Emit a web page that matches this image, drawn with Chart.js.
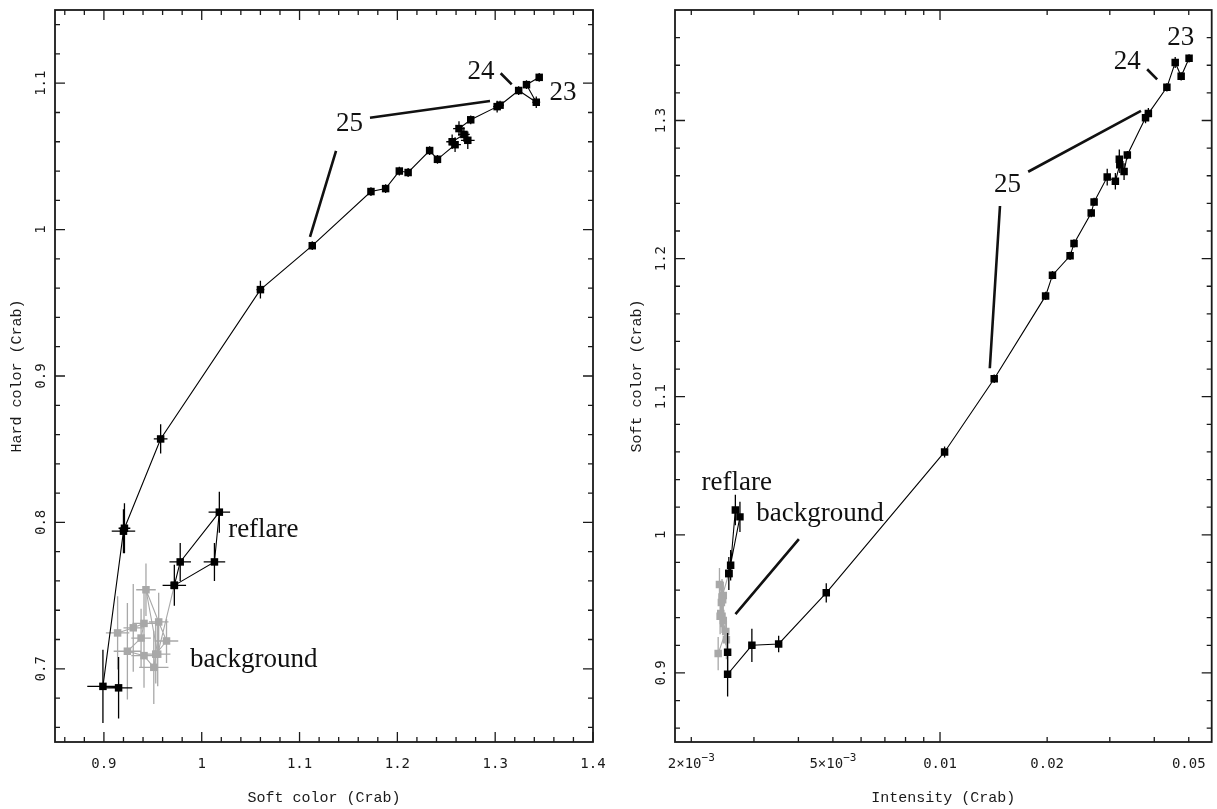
<!DOCTYPE html>
<html>
<head>
<meta charset="utf-8">
<title>Colour-colour and hardness-intensity diagrams</title>
<script src="https://cdn.jsdelivr.net/npm/chart.js@4.4.1/dist/chart.umd.min.js"></script>
<style>
  html, body { margin: 0; padding: 0; background: #fff; }
  body { width: 1217px; height: 809px; position: relative; overflow: hidden; }
  canvas { position: absolute; top: 0; }
  #ccd { left: 0; }
  #hid { left: 615px; }
</style>
</head>
<body>
<canvas id="ccd" width="615" height="809"></canvas>
<canvas id="hid" width="602" height="809"></canvas>
<script>
/* ------------------------------------------------------------------
   DATA
   Outburst track, one entry per observation. The soft colour is shared
   by both panels (x on the left, y on the right).
   ------------------------------------------------------------------ */
var SOFT      = [1.345, 1.332, 1.342, 1.324, 1.305, 1.302, 1.275, 1.263, 1.272, 1.268, 1.256, 1.259,
                 1.241, 1.233, 1.211, 1.202, 1.188, 1.173, 1.113, 1.060, 0.958, 0.921, 0.920, 0.899, 0.915];
var HARD      = [1.104, 1.099, 1.087, 1.095, 1.085, 1.084, 1.075, 1.069, 1.061, 1.065, 1.060, 1.058,
                 1.048, 1.054, 1.039, 1.040, 1.028, 1.026, 0.989, 0.959, 0.857, 0.796, 0.794, 0.688, 0.687];
var INTENSITY = [0.0501, 0.0476, 0.0458, 0.0434, 0.0385, 0.0378, 0.0336, 0.0329, 0.0319, 0.0320, 0.0311, 0.0295,
                 0.0271, 0.0266, 0.0238, 0.0232, 0.0207, 0.0198, 0.0142, 0.0103, 0.00479, 0.00352, 0.00296, 0.00253, 0.00253];
var SOFT_ERR  = [0.003, 0.003, 0.004, 0.003, 0.004, 0.004, 0.003, 0.006, 0.007, 0.006, 0.006, 0.006,
                 0.003, 0.003, 0.003, 0.003, 0.003, 0.003, 0.003, 0.004, 0.007, 0.006, 0.012, 0.016, 0.014];
var HARD_ERR  = [0.003, 0.003, 0.004, 0.003, 0.003, 0.004, 0.003, 0.005, 0.006, 0.005, 0.005, 0.005,
                 0.003, 0.003, 0.003, 0.003, 0.003, 0.003, 0.003, 0.006, 0.010, 0.017, 0.015, 0.025, 0.021];

// reflare loop (closes back on its first point)
var REFLARE_SOFT      = [0.972, 0.978, 1.018, 1.013, 0.972];
var REFLARE_HARD      = [0.757, 0.773, 0.807, 0.773, 0.757];
var REFLARE_INTENSITY = [0.00255, 0.00258, 0.00266, 0.00274, 0.00255];
var REFLARE_SOFT_ERR  = [0.012, 0.011, 0.011, 0.011, 0];
var REFLARE_HARD_ERR  = [0.014, 0.013, 0.014, 0.013, 0];

// background-level observations before the reflare
var BKG_SOFT      = [0.914, 0.930, 0.941, 0.938, 0.924, 0.941, 0.951, 0.953, 0.964, 0.956, 0.943, 0.955];
var BKG_HARD      = [0.7245, 0.728, 0.731, 0.721, 0.712, 0.709, 0.701, 0.710, 0.719, 0.732, 0.754, 0.710];
var BKG_INTENSITY = [0.00238, 0.00250, 0.00244, 0.00246, 0.00251, 0.00241, 0.00243, 0.00245, 0.00240, 0.00246, 0.00242, 0.00244];
var BKG_SOFT_ERR  = [0.012, 0.010, 0.012, 0.010, 0.014, 0.013, 0.015, 0.010, 0.012, 0.010, 0.010, 0.013];
var BKG_HARD_ERR  = [0.025, 0.030, 0.025, 0.020, 0.033, 0.022, 0.025, 0.020, 0.015, 0.020, 0.018, 0.022];

// axis tick labels
var CCD_X_TICKS  = [0.9, 1, 1.1, 1.2, 1.3, 1.4];
var CCD_X_LABELS = ['0.9', '1', '1.1', '1.2', '1.3', '1.4'];
var CCD_Y_TICKS  = [0.7, 0.8, 0.9, 1, 1.1];
var CCD_Y_LABELS = ['0.7', '0.8', '0.9', '1', '1.1'];
var HID_X_TICKS  = [0.002, 0.005, 0.01, 0.02, 0.05];
var HID_X_LABELS = ['2×10^−3', '5×10^−3', '0.01', '0.02', '0.05'];
var HID_Y_TICKS  = [0.9, 1, 1.1, 1.2, 1.3];
var HID_Y_LABELS = ['0.9', '1', '1.1', '1.2', '1.3'];

/* ------------------------------------------------------------------
   STYLE
   ------------------------------------------------------------------ */
var INK   = '#1a1a1a';
var GREY  = '#a8a8a8';
var TICK_FONT  = '14px "DejaVu Sans Mono", monospace';
var SUP_FONT   = '11px "DejaVu Sans Mono", monospace';
var TITLE_FONT = '15px "Liberation Mono", monospace';
var NOTE_FONT  = '27px "Liberation Serif", serif';

function pairs(xs, ys) {
  return xs.map(function (x, i) { return { x: x, y: ys[i] }; });
}

function steps(from, to, step) {
  var out = [];
  for (var v = from; v <= to + 1e-9; v += step) out.push(Math.round(v * 1e6) / 1e6);
  return out;
}

/* ------------------------------------------------------------------
   PLUGIN: error bars, drawn just before each dataset's markers
   ------------------------------------------------------------------ */
var errorBars = {
  id: 'errorBars',
  beforeDatasetDraw: function (chart, args) {
    var ds = chart.data.datasets[args.index];
    if (!ds.xErr && !ds.yErr) return;
    var xs = chart.scales.x, ys = chart.scales.y, ctx = chart.ctx;
    ctx.save();
    ctx.strokeStyle = ds.borderColor;
    ctx.lineWidth = 1.3;
    ctx.beginPath();
    ds.data.forEach(function (p, i) {
      var px = xs.getPixelForValue(p.x), py = ys.getPixelForValue(p.y);
      var ex = ds.xErr ? ds.xErr[i] : 0, ey = ds.yErr ? ds.yErr[i] : 0;
      if (ex) {
        ctx.moveTo(xs.getPixelForValue(p.x - ex), py);
        ctx.lineTo(xs.getPixelForValue(p.x + ex), py);
      }
      if (ey) {
        ctx.moveTo(px, ys.getPixelForValue(p.y - ey));
        ctx.lineTo(px, ys.getPixelForValue(p.y + ey));
      }
    });
    ctx.stroke();
    ctx.restore();
  }
};

/* ------------------------------------------------------------------
   PLUGIN: boxed frame with inward ticks on all sides, rotated y labels,
   axis titles and the text annotations with their leader lines
   ------------------------------------------------------------------ */
function drawTickLabel(ctx, text, cx, cy) {
  var parts = text.split('^');
  if (parts.length === 1) { ctx.textAlign = 'center'; ctx.fillText(text, cx, cy); return; }
  ctx.font = TICK_FONT;
  var wBase = ctx.measureText(parts[0]).width;
  ctx.font = SUP_FONT;
  var wSup = ctx.measureText(parts[1]).width;
  var x0 = cx - (wBase + wSup) / 2;
  ctx.textAlign = 'left';
  ctx.font = TICK_FONT;
  ctx.fillText(parts[0], x0, cy);
  ctx.font = SUP_FONT;
  ctx.fillText(parts[1], x0 + wBase, cy - 6);
  ctx.font = TICK_FONT;
}

var axisFrame = {
  id: 'axisFrame',
  afterDraw: function (chart, args, o) {
    var ctx = chart.ctx, a = chart.chartArea, xs = chart.scales.x, ys = chart.scales.y;
    ctx.save();

    function seg(x1, y1, x2, y2) { ctx.moveTo(x1, y1); ctx.lineTo(x2, y2); }
    function xTick(v, len) {
      var p = xs.getPixelForValue(v);
      seg(p, a.bottom, p, a.bottom - len);
      seg(p, a.top, p, a.top + len);
    }
    function yTick(v, len) {
      var p = ys.getPixelForValue(v);
      seg(a.left, p, a.left + len, p);
      seg(a.right, p, a.right - len, p);
    }

    ctx.strokeStyle = INK;
    ctx.lineWidth = 1.3;
    ctx.beginPath();
    o.xMinor.forEach(function (v) { xTick(v, 5); });
    o.xMajor.forEach(function (v) { xTick(v, 10); });
    o.yMinor.forEach(function (v) { yTick(v, 5); });
    o.yMajor.forEach(function (v) { yTick(v, 10); });
    ctx.stroke();

    ctx.lineWidth = 1.8;
    ctx.strokeRect(a.left, a.top, a.right - a.left, a.bottom - a.top);

    // tick labels
    ctx.fillStyle = INK;
    ctx.font = TICK_FONT;
    ctx.textBaseline = 'middle';
    o.xTicks.forEach(function (v, i) {
      drawTickLabel(ctx, o.xLabels[i], xs.getPixelForValue(v), a.bottom + 22);
    });
    o.yTicks.forEach(function (v, i) {
      ctx.save();
      ctx.translate(a.left - 14, ys.getPixelForValue(v));
      ctx.rotate(-Math.PI / 2);
      ctx.textAlign = 'center';
      ctx.fillText(o.yLabels[i], 0, 0);
      ctx.restore();
    });

    // axis titles
    ctx.font = TITLE_FONT;
    ctx.textAlign = 'center';
    ctx.fillText(o.xTitle, (a.left + a.right) / 2, a.bottom + 56);
    ctx.save();
    ctx.translate(a.left - 38, (a.top + a.bottom) / 2);
    ctx.rotate(-Math.PI / 2);
    ctx.fillText(o.yTitle, 0, 0);
    ctx.restore();

    // annotations
    ctx.lineWidth = 2.6;
    ctx.strokeStyle = '#111';
    ctx.beginPath();
    o.leaders.forEach(function (l) {
      seg(xs.getPixelForValue(l[0]), ys.getPixelForValue(l[1]),
          xs.getPixelForValue(l[2]), ys.getPixelForValue(l[3]));
    });
    ctx.stroke();
    ctx.fillStyle = '#111';
    ctx.font = NOTE_FONT;
    o.notes.forEach(function (n) {
      ctx.textAlign = n.align || 'center';
      ctx.fillText(n.text, xs.getPixelForValue(n.x), ys.getPixelForValue(n.y));
    });

    ctx.restore();
  }
};

/* ------------------------------------------------------------------
   DATASETS
   ------------------------------------------------------------------ */
function buildDatasets(trackX, reflareX, bkgX, trackY, reflareY, bkgY, errs) {
  var bkgPoints = pairs(bkgX, bkgY);
  // the background run leads into the first reflare point
  bkgPoints.push({ x: reflareX[0], y: reflareY[0] });
  var nBkg = bkgX.length;

  return [
    {
      label: 'outburst',
      data: pairs(trackX, trackY),
      showLine: true,
      borderColor: '#000',
      backgroundColor: '#000',
      borderWidth: 1.1,
      pointStyle: 'rect',
      pointRadius: 5.3,
      pointBorderWidth: 0,
      xErr: errs.trackX,
      yErr: errs.trackY,
    },
    {
      label: 'reflare',
      data: pairs(reflareX, reflareY),
      showLine: true,
      borderColor: '#000',
      backgroundColor: '#000',
      borderWidth: 1.1,
      pointStyle: 'rect',
      pointRadius: 5.3,
      pointBorderWidth: 0,
      xErr: errs.reflareX,
      yErr: errs.reflareY,
    },
    {
      label: 'background',
      data: bkgPoints,
      showLine: true,
      borderColor: GREY,
      backgroundColor: GREY,
      borderWidth: 1.1,
      pointStyle: 'rect',
      pointRadius: function (c) { return c.dataIndex < nBkg ? 5.3 : 0; },
      pointBorderWidth: 0,
      xErr: errs.bkgX,
      yErr: errs.bkgY,
    },
  ];
}

function baseOptions(padding, xScale, yScale, frame) {
  return {
    responsive: false,
    animation: false,
    events: [],
    layout: { padding: padding },
    scales: { x: xScale, y: yScale },
    plugins: {
      legend: { display: false },
      tooltip: { enabled: false },
      axisFrame: frame,
    },
  };
}

/* ------------------------------------------------------------------
   LEFT: hard colour vs soft colour
   ------------------------------------------------------------------ */
function initColourColour() {
  var ds = buildDatasets(SOFT, REFLARE_SOFT, BKG_SOFT, HARD, REFLARE_HARD, BKG_HARD, {
    trackX: SOFT_ERR, trackY: HARD_ERR,
    reflareX: REFLARE_SOFT_ERR, reflareY: REFLARE_HARD_ERR,
    bkgX: BKG_SOFT_ERR, bkgY: BKG_HARD_ERR,
  });

  new Chart(document.getElementById('ccd'), {
    type: 'scatter',
    data: { datasets: ds },
    plugins: [errorBars, axisFrame],
    options: baseOptions(
      { left: 55, right: 22, top: 10, bottom: 67 },
      { type: 'linear', min: 0.85, max: 1.4, display: false },
      { type: 'linear', min: 0.65, max: 1.15, display: false },
      {
        xMajor: CCD_X_TICKS, xMinor: steps(0.86, 1.38, 0.02),
        yMajor: CCD_Y_TICKS, yMinor: steps(0.66, 1.14, 0.02),
        xTicks: CCD_X_TICKS, xLabels: CCD_X_LABELS,
        yTicks: CCD_Y_TICKS, yLabels: CCD_Y_LABELS,
        xTitle: 'Soft color (Crab)', yTitle: 'Hard color (Crab)',
        leaders: [
          [1.172, 1.0764, 1.2947, 1.0878],
          [1.1373, 1.0537, 1.1107, 0.9951],
          [1.3056, 1.1068, 1.3169, 1.0992],
        ],
        notes: [
          { text: '25', x: 1.151, y: 1.072 },
          { text: '24', x: 1.2855, y: 1.1076 },
          { text: '23', x: 1.3693, y: 1.0933 },
          { text: 'reflare', x: 1.027, y: 0.7948, align: 'left' },
          { text: 'background', x: 0.988, y: 0.706, align: 'left' },
        ],
      }
    ),
  });
}

/* ------------------------------------------------------------------
   RIGHT: soft colour vs intensity (log axis)
   ------------------------------------------------------------------ */
function initHardnessIntensity() {
  var ds = buildDatasets(INTENSITY, REFLARE_INTENSITY, BKG_INTENSITY, SOFT, REFLARE_SOFT, BKG_SOFT, {
    trackX: null, trackY: SOFT_ERR,
    reflareX: null, reflareY: REFLARE_SOFT_ERR,
    bkgX: null, bkgY: BKG_SOFT_ERR,
  });

  var minor = steps(0.002, 0.009, 0.001).concat([0.02, 0.03, 0.04, 0.05]);

  new Chart(document.getElementById('hid'), {
    type: 'scatter',
    data: { datasets: ds },
    plugins: [errorBars, axisFrame],
    options: baseOptions(
      { left: 60, right: 1, top: 10, bottom: 67 },
      { type: 'logarithmic', min: 0.0018, max: 0.058, bounds: 'data', display: false },
      { type: 'linear', min: 0.85, max: 1.38, display: false },
      {
        xMajor: [0.01], xMinor: minor,
        yMajor: HID_Y_TICKS, yMinor: steps(0.86, 1.36, 0.02),
        xTicks: HID_X_TICKS, xLabels: HID_X_LABELS,
        yTicks: HID_Y_TICKS, yLabels: HID_Y_LABELS,
        xTitle: 'Intensity (Crab)', yTitle: 'Soft color (Crab)',
        leaders: [
          [0.0382, 1.3371, 0.04075, 1.3298],
          [0.01769, 1.2629, 0.0367, 1.3069],
          [0.01474, 1.2381, 0.0138, 1.1206],
          [0.004012, 0.9969, 0.002662, 0.9426],
        ],
        notes: [
          { text: '23', x: 0.0475, y: 1.3597 },
          { text: '24', x: 0.0336, y: 1.3427 },
          { text: '25', x: 0.01548, y: 1.2533 },
          { text: 'reflare', x: 0.002137, y: 1.0377, align: 'left' },
          { text: 'background', x: 0.003047, y: 1.015, align: 'left' },
        ],
      }
    ),
  });
}

initColourColour();
initHardnessIntensity();
</script>
</body>
</html>
